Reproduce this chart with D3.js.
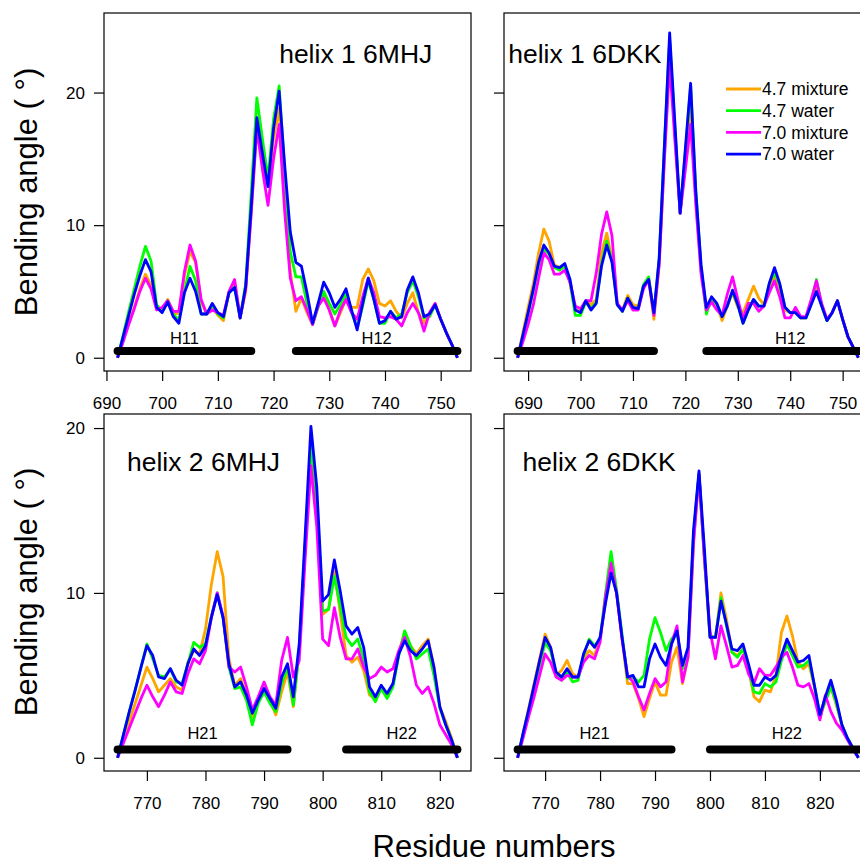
<!DOCTYPE html>
<html>
<head>
<meta charset="utf-8">
<script src="https://cdnjs.cloudflare.com/ajax/libs/d3/7.8.5/d3.min.js"></script>
<style>
  body { margin: 0; background: #fff; }
  svg text { font-family: "Liberation Sans", Arial, Helvetica, sans-serif; fill: #000; }
</style>
</head>
<body>
<svg id="fig" width="860" height="865"></svg>
<script>
// ---- data: bending angle per residue, 4 conditions per panel ----
var seriesNames  = ["4.7 mixture", "4.7 water", "7.0 mixture", "7.0 water"];
var seriesColors = ["#FFA500", "#00FF00", "#FF00FF", "#0000FF"];

// helix 1 6MHJ, residues 692..753
var h1mhjFirst = 692;
var h1mhjMix47 = [0,1.3,2.6,3.8,5.2,6.3,5.5,3.7,3.6,4.4,3.4,3.3,6.2,8.0,7.2,4.2,3.3,3.8,3.2,2.8,5.0,5.7,3.0,5.0,11.0,17.5,15.0,13.0,16.5,18.8,
  12,6.5,3.5,4.5,3.4,2.5,4.1,4.9,3.6,2.4,3.4,4.4,3.8,3.8,5.9,6.7,5.8,4.1,3.9,4.3,3.5,3.0,4.1,4.9,3.4,2.6,3.4,4.1,2.9,1.9,1.0,0];
var h1mhjWat47 = [0,1.7,3.5,5.2,6.9,8.4,7.3,4.0,3.5,4.3,3.3,2.8,5.0,6.9,5.8,3.3,3.3,4.0,3.3,3.0,4.9,5.3,3.0,5.6,12.5,19.6,16.5,13.5,18.0,20.5,
  14,8,6.1,6.1,4.1,2.5,3.8,5.0,4.1,3.3,4.0,4.8,3.4,2.3,3.9,5.8,4.4,2.6,2.6,3.5,3.0,3.3,4.9,5.8,4.6,3.0,3.1,4.0,2.9,1.9,1.0,0];
var h1mhjMix70 = [0,1.2,2.5,3.7,5.0,6.0,5.2,3.6,3.8,4.3,3.5,3.5,6.5,8.5,7.3,4.4,3.3,3.6,3.4,3.2,5.0,5.9,3.0,5.2,11.0,17.3,14.2,11.5,15.0,17.6,
  11,6,4.3,4.6,3.6,2.5,3.9,4.5,3.6,2.4,3.6,4.4,3.4,2.9,4.6,6.0,4.9,3.1,3.0,3.1,2.9,2.4,3.4,4.1,3.4,2.0,3.4,4.1,2.9,1.9,1.0,0];
var h1mhjWat70 = [0,1.6,3.2,4.8,6.2,7.4,6.5,3.8,3.4,4.2,3.1,2.6,4.9,6.0,5.0,3.3,3.3,4.1,3.4,3.1,4.9,5.3,3.0,5.4,11.5,18.1,15.4,12.9,17.3,20.1,
  14.5,9.5,7.2,6.9,4.9,2.6,4.1,5.7,4.9,3.8,4.4,5.2,3.6,2.1,4.1,6.0,4.4,2.6,2.8,3.5,2.9,3.1,5.1,6.1,4.9,3.1,3.3,4.0,2.9,1.9,1.0,0];

// helix 1 6DKK, residues 688..753
var h1dkkFirst = 688;
var h1dkkMix47 = [0,1.9,3.8,5.6,7.9,9.7,8.8,7.0,6.8,7.0,5.6,3.6,3.5,4.3,4.0,4.4,7.9,9.4,7.4,4.0,3.6,4.7,4.0,3.9,5.4,5.8,2.9,7.0,15.0,23.0,
  16.9,10.9,14.8,18.8,12,6.5,3.8,4.4,4.0,2.8,3.9,4.9,3.8,3.4,4.4,5.4,4.5,4.0,5.0,6.2,5.2,3.6,3.4,3.5,3.0,3.0,4.3,5.5,4.0,2.8,3.4,4.3,2.9,1.6,0.8,0];
var h1dkkWat47 = [0,1.6,3.3,5.0,7.0,8.2,7.8,6.8,6.6,6.9,5.7,3.2,3.2,4.2,3.7,4.2,7.1,8.8,7.3,4.0,3.5,4.5,3.7,3.7,5.5,6.1,3.3,7.5,16.0,24.0,
  17.3,10.9,15.5,20.5,12.5,6.8,3.3,4.5,4.0,3.1,3.9,5.0,4.0,2.6,3.6,4.4,3.9,3.9,5.6,6.4,5.5,3.8,3.4,3.4,3.0,3.0,4.1,5.9,3.9,2.8,3.4,4.3,2.9,1.6,0.8,0];
var h1dkkMix70 = [0,1.2,2.5,4.0,6.0,7.9,7.4,6.3,6.3,6.6,5.7,3.9,3.7,4.3,4.3,6.4,9.3,11.0,9.2,4.1,3.6,4.3,3.6,3.6,5.2,5.9,3.2,7.0,15.0,22.2,
  16.4,10.9,14.2,17.6,11.5,6.3,3.6,4.2,3.6,3.2,4.8,6.1,4.4,2.9,4.1,4.1,3.5,3.9,4.9,5.8,4.6,3.0,3.0,3.8,3.1,3.1,4.4,5.8,4.1,2.9,3.4,4.3,2.9,1.6,0.8,0];
var h1dkkWat70 = [0,1.7,3.4,5.2,7.2,8.5,7.9,6.9,6.8,7.1,5.9,3.6,3.4,4.3,3.6,4.1,6.9,8.5,7.2,4.0,3.5,4.5,3.8,3.7,5.4,5.9,3.4,7.5,16.0,24.5,
  17.7,10.9,15.8,20.7,12.5,7.0,3.8,4.6,4.1,3.1,3.9,5.1,4.0,2.6,3.6,4.4,3.9,3.9,5.6,6.8,5.6,3.8,3.4,3.4,3.0,3.0,4.0,5.0,3.9,2.8,3.4,4.3,2.9,1.6,0.8,0];

// helix 2 6MHJ, residues 765..823
var h2mhjFirst = 765;
var h2mhjMix47 = [0,1.1,2.2,3.3,4.4,5.5,4.8,4.0,4.4,4.8,4.3,4.1,5.8,6.5,6.3,7.8,10.5,12.5,11.0,6.0,4.4,4.8,3.8,2.5,3.4,4.2,3.5,2.6,4.0,5.2,
  3.1,6.5,12.8,18.8,15.0,8.7,9.0,11.3,8.8,6.2,5.8,6.1,5.3,3.8,3.6,4.2,3.8,4.5,6.4,7.6,6.8,6.3,6.8,7.2,5.5,3.1,2.2,1.2,0];
var h2mhjWat47 = [0,1.4,2.8,4.1,5.5,6.9,6.0,5.0,4.9,5.4,4.6,4.5,5.7,7.0,6.7,6.9,8.6,10.0,8.5,5.5,4.2,4.3,3.5,2.0,3.3,4.0,3.3,2.8,4.5,5.5,
  3.2,6.5,12.8,19.0,15.5,8.9,9.0,11.0,9.2,7.3,6.8,7.2,6.0,4.0,3.4,4.2,3.6,4.3,6.2,7.7,6.8,6.0,6.3,6.6,5.0,3.0,2.0,1.1,0];
var h2mhjMix70 = [0,0.9,1.8,2.7,3.6,4.4,3.7,3.1,3.8,4.6,4.0,3.9,5.1,6.0,5.7,6.5,8.5,10.0,8.6,5.5,5.2,5.5,4.3,2.9,3.7,4.6,3.7,3.2,5.9,7.3,
  4.9,5.9,12.0,17.7,14.0,7.2,6.8,9.1,7.3,6.0,6.0,6.6,5.5,4.8,5.0,5.5,5.2,5.4,6.5,7.3,6.1,4.4,3.9,4.3,3.3,2.0,1.4,0.8,0];
var h2mhjWat70 = [0,1.4,2.8,4.1,5.5,6.8,6.2,4.9,4.8,5.4,4.7,4.4,5.7,6.6,6.2,6.8,8.5,9.9,8.5,5.7,4.3,4.6,3.8,2.7,3.5,4.2,3.6,3.0,4.9,5.7,
  3.7,6.9,13.4,20.1,16.4,9.5,9.9,12.0,10.1,8.0,7.5,7.9,6.7,4.3,3.7,4.4,3.9,4.5,6.3,7.1,6.5,6.2,6.6,7.1,5.5,3.1,2.0,1.1,0];

// helix 2 6DKK, residues 765..827
var h2dkkFirst = 765;
var h2dkkMix47 = [0,1.5,3.0,4.5,6.0,7.5,6.7,5.0,5.3,5.9,5.1,4.9,6.0,6.5,6.2,7.3,9.5,11.5,10.0,7.2,4.5,4.5,3.6,2.5,3.6,4.6,3.8,3.8,5.8,6.7,
  4.5,6.1,13.0,17.2,12.0,7.3,7.3,10.0,8.4,6.4,6.2,6.6,5.4,3.7,3.4,4.1,4.0,5.0,7.6,8.6,7.4,5.8,5.4,5.7,4.3,2.4,3.5,4.3,3.2,2.0,1.2,0.6,0];
var h2dkkWat47 = [0,1.4,2.8,4.2,5.6,7.0,6.5,5.1,4.7,5.2,4.6,4.7,6.2,7.2,6.8,7.2,10.0,12.5,10.2,7.5,4.8,4.9,4.6,5.0,7.2,8.5,7.6,6.5,7.2,7.6,
  5.4,6.5,13.5,17.2,12.0,7.4,7.3,9.7,8.0,6.4,6.1,6.6,5.4,4.0,3.9,4.5,4.3,4.6,5.9,6.9,6.2,5.5,5.6,5.9,4.4,2.6,3.4,4.3,3.3,2.0,1.2,0.6,0];
var h2dkkMix70 = [0,1.2,2.5,3.7,5.0,6.3,5.8,4.9,4.7,5.0,4.9,4.9,5.8,6.2,6.0,7.0,9.8,11.8,10.0,7.2,5.0,4.6,3.7,2.9,3.9,4.8,4.3,4.6,6.9,8.0,
  4.6,6.1,13.0,17.2,12.0,7.7,6.0,8.0,6.8,5.5,5.6,6.2,5.1,4.5,5.4,5.0,5.0,5.5,6.1,6.4,5.5,4.4,4.3,4.5,3.6,2.3,3.8,2.8,2.1,1.7,1.1,0.5,0];
var h2dkkWat70 = [0,1.5,2.9,4.4,5.9,7.3,6.7,5.2,4.9,5.4,4.9,4.9,6.3,7.1,6.7,7.3,9.4,11.2,10.0,7.3,4.9,5.0,4.3,4.3,6.0,6.9,6.1,5.6,6.9,7.7,
  5.6,6.7,13.8,17.4,12.6,7.3,7.3,9.5,8.1,6.6,6.5,6.9,5.7,4.4,4.4,4.9,4.7,5.0,6.2,7.2,6.5,5.8,5.9,6.2,4.4,2.6,3.7,4.7,3.5,2.0,1.2,0.6,0];

// helix segments (residue ranges)
var helixNames1 = ["H11", "H12"];
var helixNames2 = ["H21", "H22"];
var h1mhjHelix = [[692, 716], [724, 753]];
var h1dkkHelix = [[688, 714], [724, 756]];
var h2mhjHelix = [[765, 794], [804, 823]];
var h2dkkHelix = [[765, 793], [800, 828]];

// ticks, limits, titles
var xTicksTop = [690, 700, 710, 720, 730, 740, 750];
var xTicksBottom = [770, 780, 790, 800, 810, 820];
var yTicks = [0, 10, 20];
var yLimTop = [0, 25];
var yLimBottom = [0, 20.05];
var titles = ["helix 1 6MHJ", "helix 1 6DKK", "helix 2 6MHJ", "helix 2 6DKK"];
var titleAt = [[721, 22.2], [686.2, 22.2], [766.6, 17.4], [765.9, 17.4]];   // data coords (residue, angle)

// ---- drawing ----
var svg = d3.select("#fig");
svg.append("rect").attr("width", 860).attr("height", 865).attr("fill", "#fff");

function pad(r) {            // R style 4% axis extension
  var d = (r[1] - r[0]) * 0.04;
  return [r[0] - d, r[1] + d];
}

var panels = [
  {first: h1mhjFirst, series: [h1mhjMix47, h1mhjWat47, h1mhjMix70, h1mhjWat70], helix: h1mhjHelix, hnames: helixNames1,
   xt: xTicksTop, ylim: yLimTop, left: 104, right: 471, top: 13, bottom: 371, ylab: true, legend: false},
  {first: h1dkkFirst, series: [h1dkkMix47, h1dkkWat47, h1dkkMix70, h1dkkWat70], helix: h1dkkHelix, hnames: helixNames1,
   xt: xTicksTop, ylim: yLimTop, left: 504, right: 872, top: 13, bottom: 371, ylab: false, legend: true},
  {first: h2mhjFirst, series: [h2mhjMix47, h2mhjWat47, h2mhjMix70, h2mhjWat70], helix: h2mhjHelix, hnames: helixNames2,
   xt: xTicksBottom, ylim: yLimBottom, left: 104, right: 471, top: 414, bottom: 771, ylab: true, legend: false},
  {first: h2dkkFirst, series: [h2dkkMix47, h2dkkWat47, h2dkkMix70, h2dkkWat70], helix: h2dkkHelix, hnames: helixNames2,
   xt: xTicksBottom, ylim: yLimBottom, left: 504, right: 872, top: 414, bottom: 771, ylab: false, legend: false}
];

panels.forEach(function (p, k) {
  var n = p.series[0].length;
  var x = d3.scaleLinear().domain(pad([p.first, p.first + n - 1])).range([p.left, p.right]);
  var y = d3.scaleLinear().domain(pad(p.ylim)).range([p.bottom, p.top]);

  svg.append("clipPath").attr("id", "clip" + k)
    .append("rect").attr("x", p.left).attr("y", p.top)
    .attr("width", p.right - p.left).attr("height", p.bottom - p.top);

  var g = svg.append("g").attr("clip-path", "url(#clip" + k + ")");

  var line = d3.line()
    .x(function (d, i) { return x(p.first + i); })
    .y(function (d) { return y(d); });

  p.series.forEach(function (s, j) {
    g.append("path")
      .attr("d", line(s))
      .attr("fill", "none")
      .attr("stroke", seriesColors[j])
      .attr("stroke-width", 2.8)
      .attr("stroke-linejoin", "round");
  });

  // helix bars and names
  p.helix.forEach(function (h, j) {
    g.append("line")
      .attr("x1", x(h[0])).attr("x2", x(h[1]))
      .attr("y1", y(0.5)).attr("y2", y(0.5))
      .attr("stroke", "#000").attr("stroke-width", 8).attr("stroke-linecap", "round");
    g.append("text")
      .attr("x", x((h[0] + h[1]) / 2)).attr("y", y(1.5))
      .attr("dy", "0.36em")
      .attr("text-anchor", "middle")
      .style("font-size", "16.5px")
      .text(p.hnames[j]);
  });

  // box
  svg.append("rect")
    .attr("x", p.left).attr("y", p.top)
    .attr("width", p.right - p.left).attr("height", p.bottom - p.top)
    .attr("fill", "none").attr("stroke", "#000").attr("stroke-width", 1.2);

  // axes
  var xa = svg.append("g").attr("transform", "translate(0," + p.bottom + ")")
    .call(d3.axisBottom(x).tickValues(p.xt).tickSize(10).tickPadding(16).tickFormat(d3.format("d")));
  xa.select(".domain").remove();
  xa.selectAll("line").attr("stroke", "#000").attr("stroke-width", 1.2);
  xa.selectAll("text").style("font-size", "17px").attr("fill", "#000");

  var ya = svg.append("g").attr("transform", "translate(" + p.left + ",0)")
    .call(d3.axisLeft(y).tickValues(yTicks).tickSize(10).tickPadding(9)
      .tickFormat(p.ylab ? d3.format("d") : function () { return ""; }));
  ya.select(".domain").remove();
  ya.selectAll("line").attr("stroke", "#000").attr("stroke-width", 1.2);
  ya.selectAll("text").style("font-size", "17px").attr("fill", "#000");

  // title
  svg.append("text")
    .attr("x", x(titleAt[k][0])).attr("y", y(titleAt[k][1]))
    .style("font-size", "26.5px")
    .text(titles[k]);

  // legend
  if (p.legend) {
    seriesNames.forEach(function (name, j) {
      var ly = 89 + j * 21.7;
      svg.append("line")
        .attr("x1", 726).attr("x2", 761).attr("y1", ly).attr("y2", ly)
        .attr("stroke", seriesColors[j]).attr("stroke-width", 2.8);
      svg.append("text")
        .attr("x", 762).attr("y", ly).attr("dy", "0.35em")
        .style("font-size", "17.5px")
        .text(name);
    });
  }
});

// shared axis titles
[192, 592].forEach(function (cy) {
  svg.append("text")
    .attr("transform", "translate(37," + cy + ") rotate(-90)")
    .attr("text-anchor", "middle")
    .style("font-size", "31px")
    .text("Bending angle ( \u00B0)");
});

svg.append("text")
  .attr("x", 494).attr("y", 857)
  .attr("text-anchor", "middle")
  .style("font-size", "31px")
  .text("Residue numbers");
</script>
</body>
</html>
